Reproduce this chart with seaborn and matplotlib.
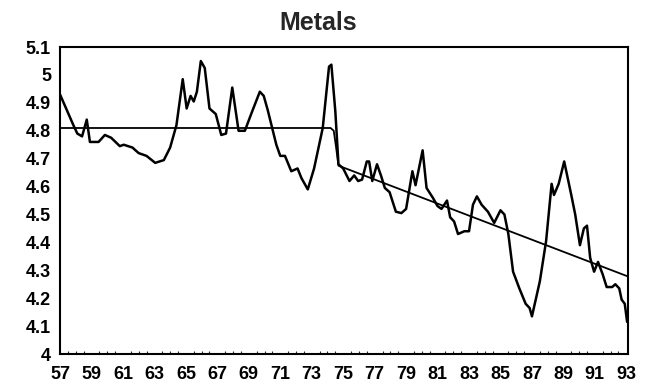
import matplotlib
matplotlib.use("Agg")
import matplotlib.pyplot as plt
import seaborn as sns
import pandas as pd
from matplotlib.ticker import MultipleLocator, FuncFormatter

# --- data ---
years = [57.0, 57.85, 58.1, 58.4, 58.7, 58.9, 59.45, 59.85, 60.25, 60.8, 61.05, 61.6,
         62.0, 62.5, 63.05, 63.6, 64.0, 64.4, 64.8, 65.05, 65.3, 65.5, 65.7, 65.95,
         66.2, 66.5, 66.9, 67.25, 67.55, 67.95, 68.35, 68.75, 69.15, 69.7, 69.95,
         70.2, 70.75, 71.0, 71.3, 71.7, 72.1, 72.35, 72.75, 73.15, 73.7, 74.1, 74.25,
         74.5, 74.7, 75.0, 75.4, 75.7, 75.95, 76.2, 76.5, 76.65, 76.85, 77.15, 77.4,
         77.65, 77.95, 78.35, 78.7, 79.0, 79.4, 79.6, 80.05, 80.3, 80.7, 81.0, 81.25,
         81.6, 81.8, 82.05, 82.3, 82.7, 83.0, 83.25, 83.5, 83.8, 84.2, 84.6, 85.0,
         85.25, 85.5, 85.8, 86.2, 86.6, 86.85, 87.0, 87.5, 87.9, 88.25, 88.4, 88.7,
         89.05, 89.5, 89.75, 90.05, 90.3, 90.5, 90.7, 90.95, 91.2, 91.5, 91.75, 92.1,
         92.3, 92.55, 92.7, 92.9, 93.05]
metals = [4.93, 4.82, 4.79, 4.78, 4.84, 4.76, 4.76, 4.785, 4.775, 4.745, 4.75, 4.74,
          4.72, 4.71, 4.685, 4.695, 4.74, 4.82, 4.985, 4.88, 4.925, 4.905, 4.94, 5.05,
          5.025, 4.88, 4.86, 4.785, 4.79, 4.955, 4.80, 4.80, 4.86, 4.94, 4.925,
          4.875, 4.75, 4.71, 4.71, 4.655, 4.665, 4.63, 4.59, 4.665, 4.81, 5.03, 5.037,
          4.87, 4.68, 4.665, 4.62, 4.64, 4.62, 4.625, 4.69, 4.69, 4.62, 4.68, 4.64,
          4.595, 4.58, 4.51, 4.505, 4.52, 4.655, 4.605, 4.73, 4.595, 4.56, 4.53, 4.52,
          4.55, 4.49, 4.475, 4.43, 4.44, 4.44, 4.535, 4.565, 4.535, 4.51, 4.47, 4.515,
          4.50, 4.43, 4.295, 4.235, 4.18, 4.165, 4.135, 4.26, 4.405, 4.61, 4.57, 4.61,
          4.69, 4.57, 4.50, 4.39, 4.45, 4.46, 4.345, 4.295, 4.33, 4.285, 4.24, 4.24,
          4.25, 4.235, 4.195, 4.18, 4.115]
trend_years = [57.0, 74.2, 74.4, 74.55, 74.7, 93.1]
trend_vals = [4.81, 4.81, 4.80, 4.74, 4.675, 4.278]

title = "Metals"
ytick_vals = [4.0, 4.1, 4.2, 4.3, 4.4, 4.5, 4.6, 4.7, 4.8, 4.9, 5.0, 5.1]
xtick_vals = list(range(57, 94, 2))

df = pd.DataFrame({"year": years, "value": metals})
dft = pd.DataFrame({"year": trend_years, "value": trend_vals})

sns.set_style("white")
plt.rcParams["font.family"] = ["Liberation Sans", "DejaVu Sans"]

fig = plt.figure(figsize=(6.49, 3.91), dpi=100)
ax = fig.add_axes([0.0925, 0.0946, 0.875, 0.785])

sns.lineplot(data=df, x="year", y="value", ax=ax, color="black", linewidth=1.8)
sns.lineplot(data=dft, x="year", y="value", ax=ax, color="black", linewidth=1.3)

ax.set_xlim(57, 93.1)
ax.set_ylim(4.0, 5.1)
ax.set_xticks(xtick_vals)
ax.set_yticks(ytick_vals)
ax.xaxis.set_minor_locator(MultipleLocator(0.5))
ax.yaxis.set_major_formatter(FuncFormatter(lambda v, p: f"{v:g}"))
ax.set_xlabel("")
ax.set_ylabel("")

for s in ax.spines.values():
    s.set_color("black")
    s.set_linewidth(1.5)

ax.tick_params(axis="both", which="major", direction="inout", length=7, width=1.2,
               colors="black", labelsize=13, pad=3)
ax.tick_params(axis="x", which="major", pad=5)
ax.tick_params(axis="x", which="minor", direction="in", length=2.5, width=0.8, bottom=True)
for lab in ax.get_xticklabels() + ax.get_yticklabels():
    lab.set_fontweight("bold")

fig.text(0.49, 0.94, title, ha="center", va="center", fontsize=18, fontweight="bold")

fig.savefig("out.png", dpi=100)
